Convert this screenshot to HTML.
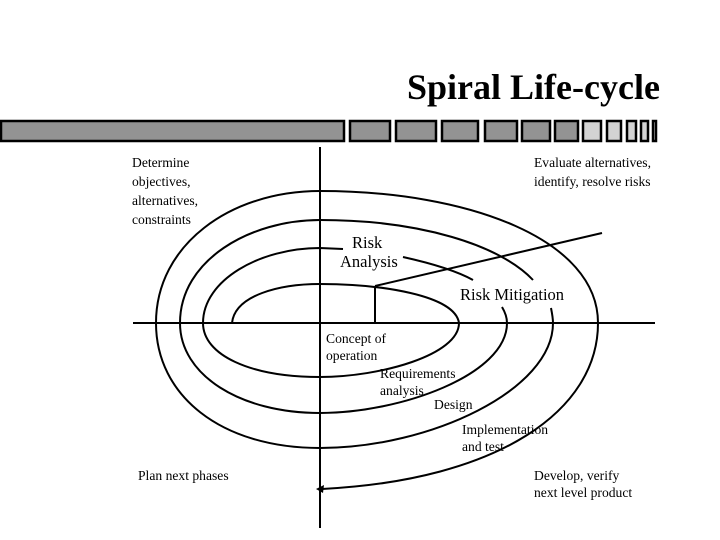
<!DOCTYPE html>
<html><head><meta charset="utf-8"><style>
html,body{margin:0;padding:0;background:#fff;}
svg{display:block;}
text{font-family:"Liberation Serif",serif;fill:#000;}
.t{font-size:13.6px;}
.r{font-size:16.5px;}
</style></head><body>
<svg width="720" height="540" viewBox="0 0 720 540" xmlns="http://www.w3.org/2000/svg">
<text x="407" y="99" style="font-size:36px;font-weight:bold">Spiral Life-cycle</text>
<g fill="#939393" stroke="#000" stroke-width="2.5">
<rect x="1" y="121" width="343" height="20"/>
<rect x="350" y="121" width="40" height="20"/>
<rect x="396" y="121" width="40" height="20"/>
<rect x="442" y="121" width="36" height="20"/>
<rect x="485" y="121" width="32" height="20"/>
<rect x="522" y="121" width="28" height="20"/>
<rect x="555" y="121" width="23" height="20"/>
<rect x="583" y="121" width="18" fill="#d3d3d3" height="20"/>
<rect x="607" y="121" width="14" fill="#d3d3d3" height="20"/>
<rect x="627" y="121" width="9" fill="#d3d3d3" height="20"/>
<rect x="641" y="121" width="7" fill="#d3d3d3" height="20"/>
<rect x="653" y="121" width="3" fill="#d3d3d3" height="20"/>
</g>
<g stroke="#000" stroke-width="2" fill="none">
<line x1="320" y1="147" x2="320" y2="528"/>
<line x1="133" y1="323" x2="655" y2="323"/>
<line x1="375" y1="286" x2="375" y2="323"/>
<line x1="375" y1="286" x2="602" y2="233"/>
<path d="M232,323 C235,295 280,284 320,284 C380,284 455,295 459,323 C459,355 380,377 320,377 C250,377 203,355 203,323 C203,280 260,248 320,248 L343,249"/>
<path d="M403,257 C430,263 455,270 473,280"/>
<path d="M502,307 C505,312 507,318 507,323 C507,375 400,413 320,413 C240,413 180,375 180,323 C180,260 250,220 320,220 C420,220 500,245 533,280"/>
<path d="M551,308 C552,313 553,318 553,323 C553,390 430,448 320,448 C220,448 156,395 156,323 C156,245 230,191 320,191 C470,191 598,240 598,323 C598,410 500,480 322,489"/>
</g>
<polygon points="316,489 324,485 323,493" fill="#000"/>
<text class="t" x="132" y="167">Determine</text>
<text class="t" x="132" y="186">objectives,</text>
<text class="t" x="132" y="205">alternatives,</text>
<text class="t" x="132" y="224">constraints</text>
<text class="t" x="534" y="167">Evaluate alternatives,</text>
<text class="t" x="534" y="186">identify, resolve risks</text>
<text class="r" x="352" y="248">Risk</text>
<text class="r" x="340" y="267">Analysis</text>
<text class="r" x="460" y="300">Risk Mitigation</text>
<text class="t" x="326" y="343">Concept of</text>
<text class="t" x="326" y="360">operation</text>
<text class="t" x="380" y="378">Requirements</text>
<text class="t" x="380" y="395">analysis</text>
<text class="t" x="434" y="409">Design</text>
<text class="t" x="462" y="434">Implementation</text>
<text class="t" x="462" y="451">and test</text>
<text class="t" x="138" y="480">Plan next phases</text>
<text class="t" x="534" y="480">Develop, verify</text>
<text class="t" x="534" y="497">next level product</text>
</svg>
</body></html>
